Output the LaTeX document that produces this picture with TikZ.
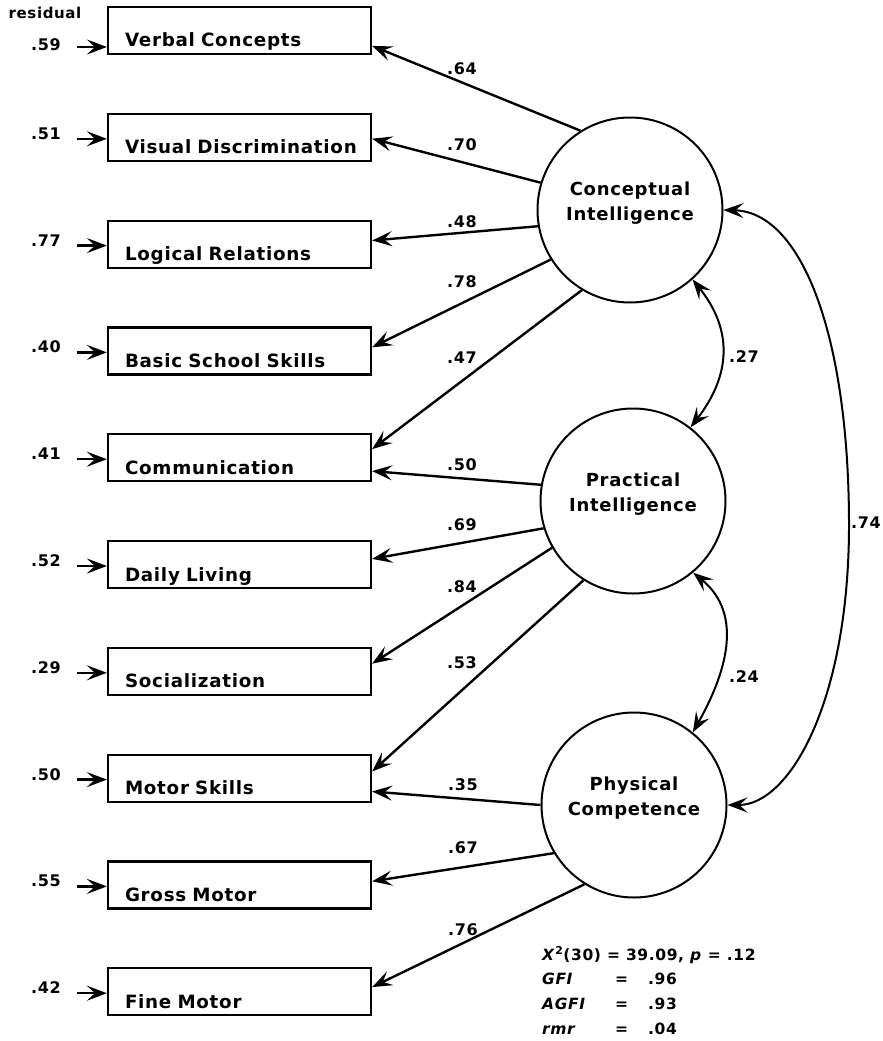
\documentclass[tikz,border=0pt]{standalone}
\usepackage{fontspec}
\setmainfont{DejaVu Sans}[LetterSpace=4]
\usetikzlibrary{arrows.meta}
\tikzset{
  tipA/.tip={Stealth[length=20pt,width=15pt,inset=8pt]},
  box/.style={draw, line width=2.2pt, text width=235pt, align=left, inner xsep=14pt, inner ysep=2pt,
    text height=38pt, text depth=5pt, font=\fontsize{18.3}{20}\selectfont\bfseries},
  lat/.style={circle, draw, line width=2pt, minimum size=185pt, inner sep=0pt},
  lattext/.style={align=center, inner sep=0pt, font=\fontsize{18}{25}\selectfont\bfseries},
  num/.style={inner sep=0pt, font=\fontsize{16}{18}\selectfont\bfseries},
  stat/.style={inner sep=0pt, font=\fontsize{15.5}{17}\selectfont\bfseries},
  arr/.style={line width=2.4pt, -tipA},
  cov/.style={line width=2pt, tipA-tipA},
}
\begin{document}
\begin{tikzpicture}[x=1pt,y=-1pt]
\useasboundingbox (0,0) rectangle (883,1041);
% observed variables
\node[box] (b0) at (239.5,30.5) {\hspace*{3pt}Verbal Concepts};
\node[box] (b1) at (239.5,137.3) {\hspace*{3pt}\mbox{Visual Discrimination}};
\node[box] (b2) at (239.5,244.1) {\hspace*{3pt}Logical Relations};
\node[box] (b3) at (239.5,350.9) {\hspace*{3pt}Basic School Skills};
\node[box] (b4) at (239.5,457.7) {\hspace*{3pt}Communication};
\node[box] (b5) at (239.5,564.5) {\hspace*{3pt}Daily Living};
\node[box] (b6) at (239.5,671.3) {\hspace*{3pt}Socialization};
\node[box] (b7) at (239.5,778.1) {\hspace*{3pt}Motor Skills};
\node[box] (b8) at (239.5,884.9) {\hspace*{3pt}Gross Motor};
\node[box] (b9) at (239.5,991.7) {\hspace*{3pt}Fine Motor};
% residuals
\node[inner sep=0pt, font=\fontsize{15}{17}\selectfont\bfseries] (res) at (45,13) {residual};
\node[num] (r0) at (46,45) {.59};
\node[num] (r1) at (46,134) {.51};
\node[num] (r2) at (46,241) {.77};
\node[num] (r3) at (46,347) {.40};
\node[num] (r4) at (46,454) {.41};
\node[num] (r5) at (46,561) {.52};
\node[num] (r6) at (46,668) {.29};
\node[num] (r7) at (46,775) {.50};
\node[num] (r8) at (46,881) {.55};
\node[num] (r9) at (46,988) {.42};
\coordinate (s0) at (77,47);
\coordinate (s1) at (77,138.8);
\coordinate (s2) at (77,245.6);
\coordinate (s3) at (77,352.4);
\coordinate (s4) at (77,459.2);
\coordinate (s5) at (77,566);
\coordinate (s6) at (77,672.8);
\coordinate (s7) at (77,779.6);
\coordinate (s8) at (77,886.4);
\coordinate (s9) at (77,993.2);
\foreach \i in {0,...,9} {\draw[arr] (s\i) -- (s\i -| b\i.west);}
% latent variables
\node[lat] (C1) at (630,210) {};
\node[lat] (C2) at (633,501) {};
\node[lat] (C3) at (634,805) {};
\node[lattext] (t1) at ([yshift=7pt]C1.center) {Conceptual\\Intelligence};
\node[lattext] (t2) at ([yshift=7pt]C2.center) {Practical\\Intelligence};
\node[lattext] (t3) at ([yshift=7pt]C3.center) {Physical\\Competence};
% loadings
\draw[arr] (C1.122) -- ([yshift=-40pt]b0.north east);
\draw[arr] (C1.163) -- ([yshift=-26pt]b1.north east);
\draw[arr] (C1.190) -- ([yshift=-21pt]b2.north east);
\draw[arr] (C1.212) -- ([yshift=-21pt]b3.north east);
\draw[arr] (C1.239) -- ([yshift=-16pt]b4.north east);
\draw[arr] (C2.170) -- ([yshift=-38pt]b4.north east);
\draw[arr] (C2.197) -- ([yshift=-19pt]b5.north east);
\draw[arr] (C2.210) -- ([yshift=-17pt]b6.north east);
\draw[arr] (C2.238) -- ([yshift=-18pt]b7.north east);
\draw[arr] (C3.180) -- ([yshift=-38pt]b7.north east);
\draw[arr] (C3.211) -- ([yshift=-21pt]b8.north east);
\draw[arr] (C3.238) -- ([yshift=-20pt]b9.north east);
\node[num] (l1) at (462,69) {.64};
\node[num] (l2) at (462,145) {.70};
\node[num] (l3) at (462,222) {.48};
\node[num] (l4) at (462,282) {.78};
\node[num] (l5) at (462,358) {.47};
\node[num] (l6) at (462,465) {.50};
\node[num] (l7) at (462,525) {.69};
\node[num] (l8) at (462,587) {.84};
\node[num] (l9) at (462,663) {.53};
\node[num] (l10) at (463,785) {.35};
\node[num] (l11) at (463,848) {.67};
\node[num] (l12) at (463,930) {.76};
% covariances
\draw[cov] (C1.312) .. controls (733,330) and (731,375) .. (C2.52);
\node[num, anchor=west] (k1) at (729,357) {.27};
\draw[cov] (C2.310) .. controls (745,615) and (725,675) .. (C3.51);
\node[num, anchor=west] (k2) at (729,677) {.24};
\coordinate (m74) at (849,520);
\draw[cov] (C1.0) .. controls (800,212) and (848,330) .. (m74) .. controls (850,700) and (790,805) .. (C3.0);
\node[num, anchor=west] (k3) at (851,523) {.74};
% fit statistics
\node[stat, anchor=base west] (chi) at (542,960) {\textit{X}\textsuperscript{2}(30) = 39.09, \textit{p} = .12};
\node[stat, anchor=base west] (gfi) at (542,984) {\makebox[73pt][l]{\textit{GFI}}\makebox[33pt][l]{=}.96};
\node[stat, anchor=base west] (agfi) at (542,1009) {\makebox[73pt][l]{\textit{AGFI}}\makebox[33pt][l]{=}.93};
\node[stat, anchor=base west] (rmr) at (542,1034) {\makebox[73pt][l]{\textit{rmr}}\makebox[33pt][l]{=}.04};
\end{tikzpicture}
\end{document}
